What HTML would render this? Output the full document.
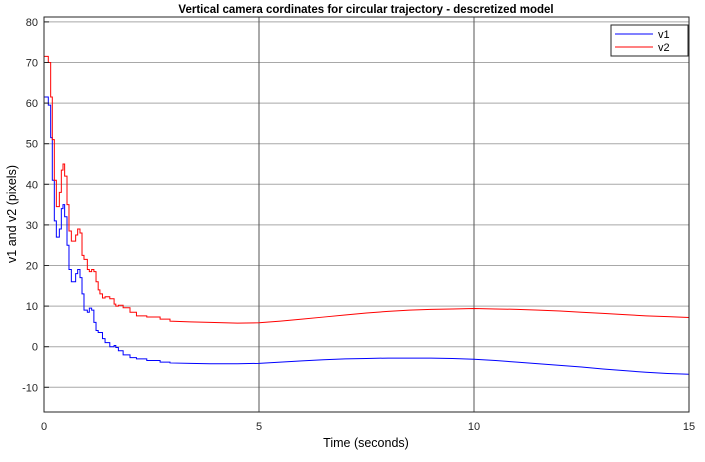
<!DOCTYPE html>
<html><head><meta charset="utf-8"><style>
body{margin:0;background:#fff;font-family:"Liberation Sans",sans-serif;}
svg text{font-family:"Liberation Sans",sans-serif;}
</style></head><body>
<svg id="chart" width="705" height="457" xmlns="http://www.w3.org/2000/svg">
<rect x="0" y="0" width="705" height="457" fill="#fff"/>
<text x="366" y="13" font-size="11.5" font-weight="bold" text-anchor="middle">Vertical camera cordinates for circular trajectory - descretized model</text>
<g id="grid"></g>
<g id="series"></g>
<rect x="44" y="17" width="645" height="395" fill="none" stroke="#262626" stroke-width="1"/>
<g id="ticks"></g>
<text x="366" y="447" font-size="12.5" text-anchor="middle">Time (seconds)</text>
<text transform="translate(16,214) rotate(-90)" font-size="12.5" text-anchor="middle">v1 and v2 (pixels)</text>
<g>
<rect x="611" y="25" width="77" height="31" fill="#fff" stroke="#262626"/>
<line x1="615" y1="34" x2="653" y2="34" stroke="#00f"/>
<text x="658" y="38" font-size="11">v1</text>
<line x1="615" y1="47" x2="653" y2="47" stroke="#f00"/>
<text x="658" y="51" font-size="11">v2</text>
</g>
</svg>
<script>
const times=[0,0.1,0.155,0.193,0.24,0.287,0.357,0.403,0.442,0.48,0.535,0.581,0.636,0.736,0.783,0.837,0.884,0.93,1.008,1.054,1.108,1.16,1.21,1.26,1.30,1.36,1.42,1.53,1.63,1.67,1.73,1.84,2.0,2.15,2.39,2.7,2.93,3.4,3.86,4.5,5,5.5,6,6.5,7,7.5,8,8.5,9,9.5,10,10.5,11,11.5,12,12.5,13,13.5,14,14.5,15];
const v2=[71.5,70,61.5,51,41,34.5,38,43.5,45,42,35,28.5,26,27.5,29,28,22.5,21.5,19,18.5,19,18.5,16,14,13,12,12.3,11.8,10.5,10,10.2,9.6,8.5,7.6,7.3,6.8,6.3,6.1,6,5.8,5.9,6.3,6.8,7.3,7.8,8.3,8.7,9,9.2,9.3,9.4,9.3,9.2,9,8.8,8.5,8.2,7.9,7.6,7.4,7.2];
const v1=[61.5,59.5,51.5,41,31,27,29,34,35,32,25,19,16,18,19,17,13,9,8.5,9.5,9,6,4,3.5,3.5,2,1,0,0.3,-0.2,-1,-2,-2.7,-3,-3.4,-3.8,-4,-4.1,-4.2,-4.2,-4.1,-3.8,-3.5,-3.2,-3,-2.9,-2.8,-2.8,-2.8,-2.9,-3.1,-3.4,-3.8,-4.2,-4.6,-5,-5.5,-5.9,-6.3,-6.6,-6.8];
const xTicks=[0,5,10,15];
const yTicks=[-10,0,10,20,30,40,50,60,70,80];
const NS="http://www.w3.org/2000/svg";
const X=t=>44+t*43;
const Y=v=>346.7-v*4.06;
const grid=document.getElementById('grid'),ticks=document.getElementById('ticks'),ser=document.getElementById('series');
function mk(tag,attrs,parent){const e=document.createElementNS(NS,tag);for(const k in attrs)e.setAttribute(k,attrs[k]);parent.appendChild(e);return e;}
yTicks.forEach(v=>{
 const l=mk('line',{x1:44,x2:689,y1:Y(v),y2:Y(v),stroke:'#a8a8a8','stroke-width':1},grid);
 
 
 const t=mk('text',{x:38,y:Y(v)+4,'font-size':11,'text-anchor':'end',fill:'#262626'},ticks);
 
 
 t.textContent=v;
 mk('line',{x1:44,x2:49,y1:Y(v),y2:Y(v),stroke:'#262626'},ticks);
});
xTicks.forEach(v=>{
 const l=mk('line',{x1:X(v),x2:X(v),y1:17,y2:412,stroke:'#555','stroke-width':1},grid);
 
 
 const t=mk('text',{x:X(v),y:430,'font-size':11,'text-anchor':'middle',fill:'#262626'},ticks);
 
 
 t.textContent=v;
});
function stairs(vals){let d='';for(let i=0;i<times.length;i++){const x=X(times[i]),y=Y(vals[i]);if(i===0)d+='M'+x+','+y;else if(times[i]>3)d+='L'+x+','+y;else d+='L'+x+','+Y(vals[i-1])+'L'+x+','+y;}return d;}
const p1=mk('path',{d:stairs(v1),fill:'none',stroke:'#00f','stroke-width':1},ser);


const p2=mk('path',{d:stairs(v2),fill:'none',stroke:'#f00','stroke-width':1},ser);


</script>
</body></html>
